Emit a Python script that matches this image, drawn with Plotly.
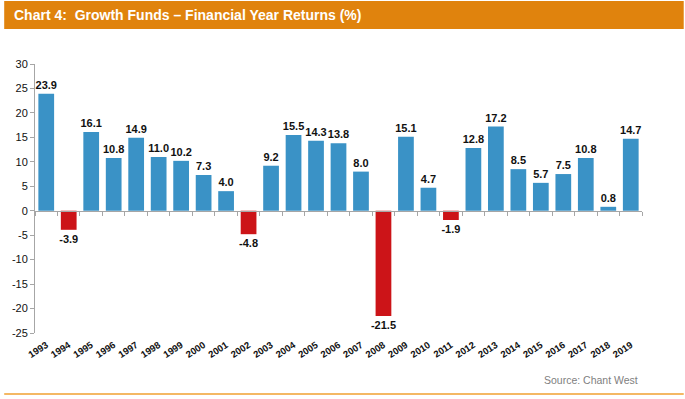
import plotly.graph_objects as go

years = [str(y) for y in range(1993, 2020)]
returns = [23.9, -3.9, 16.1, 10.8, 14.9, 11.0, 10.2, 7.3, 4.0, -4.8, 9.2, 15.5, 14.3, 13.8,
           8.0, -21.5, 15.1, 4.7, -1.9, 12.8, 17.2, 8.5, 5.7, 7.5, 10.8, 0.8, 14.7]
y_ticks = [30, 25, 20, 15, 10, 5, 0, -5, -10, -15, -20, -25]
y_ticktext = [str(v) for v in y_ticks]
title_text = "Chart 4:\u00a0 Growth Funds \u2013 Financial Year Returns (%)"
source_text = "Source: Chant West"

BLUE = "#3A92C6"
RED = "#CC1418"
ORANGE = "#E0830D"
FONT = "Arial, Liberation Sans, sans-serif"

W, H = 685, 399
L, R, T, B = 31, 43, 64, 66
pw, ph = W - L - R, H - T - B

def px_x(x):
    return (x - L) / pw

def px_y(y):
    return (H - B - y) / ph

colors = [BLUE if v >= 0 else RED for v in returns]
labels = [f"{v:.1f}" for v in returns]

fig = go.Figure()
fig.add_trace(go.Bar(
    x=years, y=returns, marker=dict(color=colors, line=dict(width=0)),
    text=labels, textposition="outside", constraintext="none", cliponaxis=False,
    textfont=dict(family=FONT, size=11, color="#111111", weight="bold"),
    hoverinfo="x+y", showlegend=False,
))
# invisible trace on the zero-line axis (carries tick marks at category boundaries)
fig.add_trace(go.Scatter(x=years, y=[0] * len(years), xaxis="x2", mode="markers",
                         marker=dict(opacity=0), hoverinfo="skip", showlegend=False))

ymin, ymax = -25, 30
fig.update_layout(
    width=W, height=H,
    margin=dict(l=L, r=R, t=T, b=B, pad=0),
    paper_bgcolor="white", plot_bgcolor="white",
    bargap=0.3,
    font=dict(family=FONT, color="#111111"),
    xaxis=dict(type="category", range=[-0.5, 26.5], showline=False, ticks="",
               showgrid=False, zeroline=False, tickangle=-33, ticklabelstandoff=4,
               tickfont=dict(family=FONT, size=9.5, color="#111111", weight="bold")),
    xaxis2=dict(type="category", range=[-0.5, 26.5], overlaying="x", anchor="free",
                position=(0 - ymin) / (ymax - ymin), side="bottom",
                showline=True, linecolor="#A6A6A6", linewidth=1,
                ticks="outside", ticklen=4, tickcolor="#A6A6A6", tickson="boundaries",
                showticklabels=False, showgrid=False, zeroline=False),
    yaxis=dict(range=[ymin, ymax], tickvals=y_ticks, ticktext=y_ticktext,
               showline=True, linecolor="#A6A6A6", linewidth=1,
               ticks="outside", ticklen=4, tickcolor="#A6A6A6",
               showgrid=False, zeroline=False,
               tickfont=dict(family=FONT, size=11, color="#111111")),
    shapes=[
        dict(type="rect", xref="paper", yref="paper",
             x0=px_x(0), x1=px_x(684), y0=px_y(29), y1=px_y(1),
             fillcolor=ORANGE, line=dict(width=0), layer="below"),
        dict(type="line", xref="paper", yref="paper",
             x0=px_x(0), x1=px_x(684), y0=px_y(394), y1=px_y(394),
             line=dict(color="#F0A030", width=1.5)),
    ],
    annotations=[
        dict(text=title_text, xref="paper", yref="paper", x=px_x(8), y=px_y(15),
             xanchor="left", yanchor="middle", showarrow=False,
             font=dict(family=FONT, size=14, color="white", weight="bold")),
        dict(text=source_text, xref="paper", yref="paper", x=px_x(640), y=px_y(380),
             xanchor="right", yanchor="middle", showarrow=False,
             font=dict(family=FONT, size=10.5, color="#808080")),
    ],
)

fig.write_html("out.html", config={"displayModeBar": False},
               post_script="document.body.style.margin='0';document.body.style.padding='0';")
